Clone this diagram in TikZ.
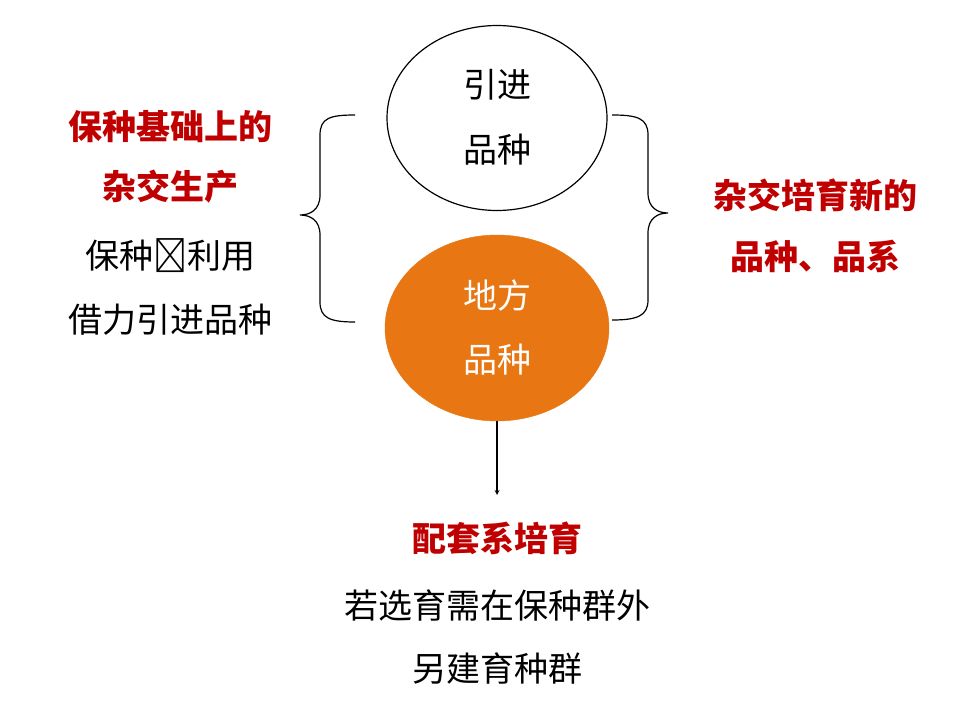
\documentclass[tikz,border=0pt]{standalone}
\usepackage{fontspec}
\usetikzlibrary{shapes.geometric}
\setmainfont{Noto Sans CJK SC}
\definecolor{myred}{RGB}{192,0,0}
\definecolor{myorange}{RGB}{232,118,18}
\begin{document}
\begin{tikzpicture}[x=1pt,y=-1pt,
  txt/.style={font=\fontsize{34}{40}\selectfont, inner sep=0pt},
  rtxt/.style={font=\bfseries\fontsize{34}{40}\selectfont, text=myred, inner sep=0pt},
  brace/.style={line width=1.2pt}]
\useasboundingbox (0,0) rectangle (976,720);
\node[draw, line width=1.2pt, ellipse, minimum width=220pt, minimum height=185pt, fill=white] (top) at (497,118) {};
\node[txt] (t1) at (497,85) {引进};
\node[txt] (t2) at (497,150) {品种};
\node[draw=myorange, fill=myorange, ellipse, minimum width=224pt, minimum height=186pt] (bot) at (497,328) {};
\node[txt, text=white] (b1) at (497,296) {地方};
\node[txt, text=white] (b2) at (497,360) {品种};
\coordinate (lt) at (355,115); \coordinate (lb) at (355,322); \coordinate (ltip) at (300,215);
\coordinate (rt) at (612,115); \coordinate (rb) at (612,320); \coordinate (rtip) at (668,213);
\draw[brace] (lt) .. controls (330,115) and (320,118) .. (320,135) -- (320,195) .. controls (320,210) and (310,215) .. (ltip)
  .. controls (310,215) and (320,220) .. (320,235) -- (320,302) .. controls (320,318) and (330,322) .. (lb);
\draw[brace] (rt) .. controls (637,115) and (648,118) .. (648,135) -- (648,193) .. controls (648,208) and (658,213) .. (rtip)
  .. controls (658,213) and (648,218) .. (648,233) -- (648,300) .. controls (648,316) and (637,320) .. (rb);
\node[rtxt] (l1) at (170,127) {保种基础上的};
\node[rtxt] (l2) at (170,187) {杂交生产};
\node[txt] (l3) at (170,256) {保种≒利用};
\node[txt] (l4) at (170,320) {借力引进品种};
\node[rtxt] (r1) at (815,195) {杂交培育新的};
\node[rtxt] (r2) at (815,256) {品种、品系};
\node[rtxt] (c1) at (497,538) {配套系培育};
\node[txt] (c2) at (497,605) {若选育需在保种群外};
\node[txt] (c3) at (497,668) {另建育种群};
\draw[line width=1.2pt, -stealth] (bot.south) -- (497,495);
\end{tikzpicture}
\end{document}
